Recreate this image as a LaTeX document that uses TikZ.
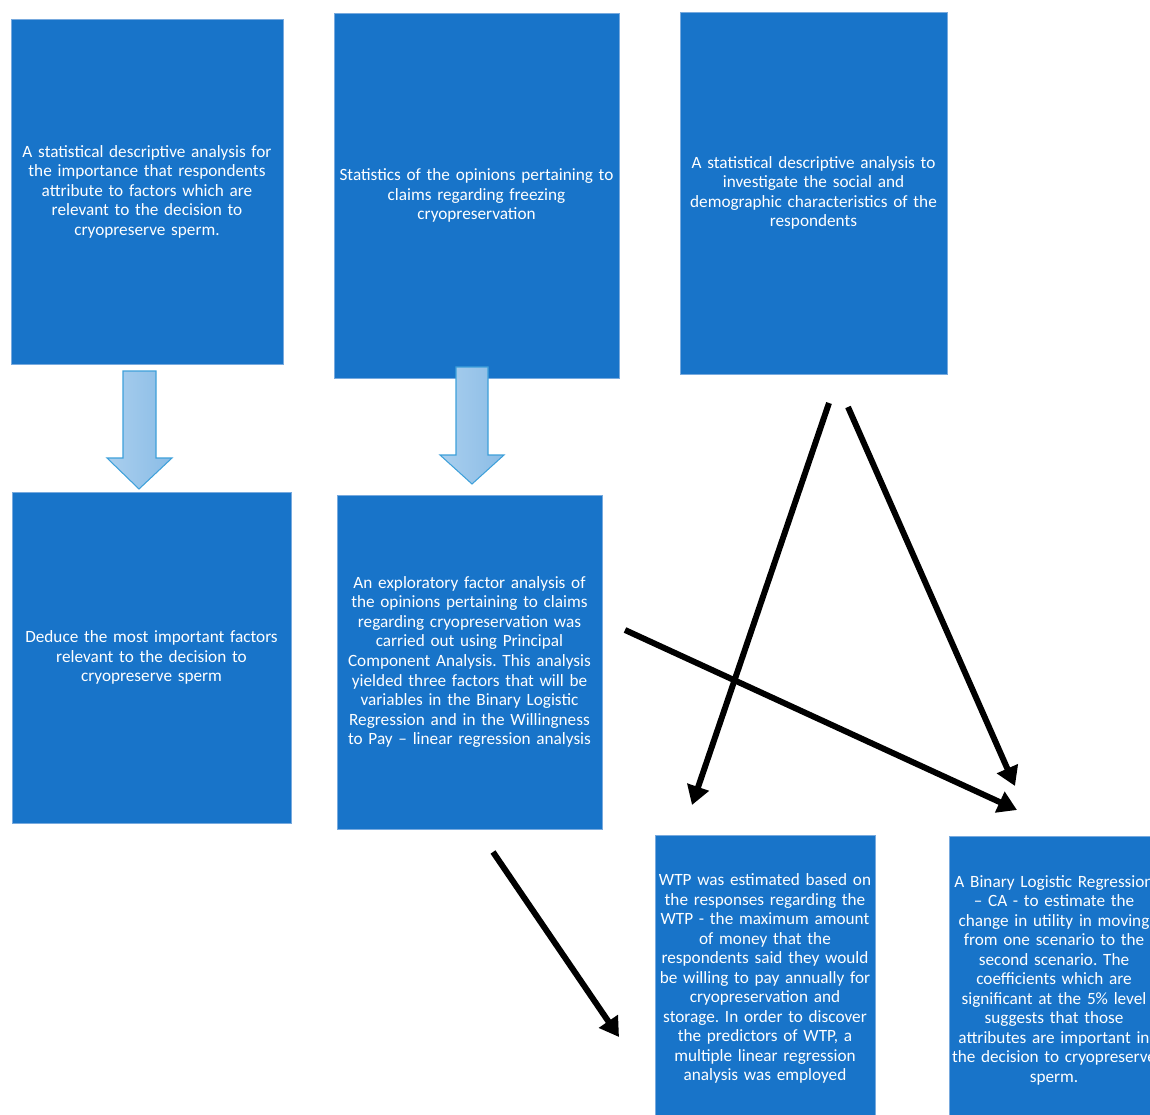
\documentclass[tikz,border=0pt]{standalone}
\usepackage{fontspec}
\setmainfont{Carlito}
\usepackage{tikz}
\usetikzlibrary{arrows.meta,positioning}
\definecolor{study_blue}{RGB}{24,116,201}
\definecolor{study_edge}{RGB}{120,170,222}
\definecolor{pipe_light}{RGB}{170,207,238}
\definecolor{pipe_dark}{RGB}{138,188,230}
\definecolor{pipe_edge}{RGB}{62,160,218}
\frenchspacing

\begin{document}
\begin{tikzpicture}[x=0.02cm, y=-0.02cm,
    font=\fontsize{9.8}{11.1}\selectfont,
    stagebox/.style={draw=study_edge, line width=0.5pt, fill=study_blue,
      text=white, align=center, inner sep=0pt},
    pipe/.style={draw=pipe_edge, line width=0.6pt,
      left color=pipe_light, right color=pipe_dark},
    link/.style={line width=3.4pt, -{Triangle[length=3.8mm, width=4.4mm]}}]
        \useasboundingbox (0,0) rectangle (1150,1115);
        \clip (0,0) rectangle (1150,1115);
        % Top row
        \node[stagebox, minimum width=5.44cm, minimum height=6.9cm,
          text width=5.3cm] (importance) at (147,191.5)
          {A statistical descriptive analysis for\\
           the importance that respondents\\
           attribute to factors which are\\
           relevant to the decision to\\
           cryopreserve sperm.};
        \node[stagebox, minimum width=5.7cm, minimum height=7.3cm,
          text width=5.6cm] (opinions) at (476.5,195.5)
          {Statistics of the opinions pertaining to\\
           claims regarding freezing\\
           cryopreservation};
        \node[stagebox, minimum width=5.34cm, minimum height=7.24cm,
          text width=5.2cm] (social) at (813.5,193)
          {A statistical descriptive analysis to\\
           investigate the social and\\
           demographic characteristics of the\\
           respondents};
        % Middle row
        \node[stagebox, minimum width=5.58cm, minimum height=6.62cm,
          text width=5.4cm] (deduce) at (151.5,657.5)
          {Deduce the most important factors\\
           relevant to the decision to\\
           cryopreserve sperm};
        \node[stagebox, minimum width=5.3cm, minimum height=6.68cm,
          text width=5.2cm] (factor) at (469.5,662)
          {An exploratory factor analysis of\\
           the opinions pertaining to claims\\
           regarding cryopreservation was\\
           carried out using Principal\\
           Component Analysis. This analysis\\
           yielded three factors that will be\\
           variables in the Binary Logistic\\
           Regression and in the Willingness\\
           to Pay -- linear regression analysis};
        % Bottom row
        \node[stagebox, minimum width=4.4cm, minimum height=5.74cm,
          text width=4.6cm, inner xsep=-0.1cm] (wtp) at (765,978.5)
          {WTP was estimated based on\\
           the responses regarding the\\
           WTP - the maximum amount\\
           of money that the\\
           respondents said they would\\
           be willing to pay annually for\\
           cryopreservation and\\
           storage. In order to discover\\
           the predictors of WTP, a\\
           multiple linear regression\\
           analysis was employed};
        \node[stagebox, minimum width=4.2cm, minimum height=5.76cm,
          text width=4.6cm, inner xsep=-0.2cm] (logit) at (1054,980)
          {A Binary Logistic Regression\\
           -- CA - to estimate the\\
           change in utility in moving\\
           from one scenario to the\\
           second scenario. The\\
           coefficients which are\\
           significant at the 5\% level\\
           suggests that those\\
           attributes are important in\\
           the decision to cryopreserve\\
           sperm.};
        % Block arrows
        \draw[pipe] (123,371) -- (156,371) -- (156,458) -- (172,458)
          -- (139,489) -- (107,458) -- (123,458) -- cycle;
        \draw[pipe] (456,367) -- (488,367) -- (488,455) -- (504,455)
          -- (472,484) -- (440,455) -- (456,455) -- cycle;
        % Loose arrow ends
        \coordinate (socialA) at (829,403);
        \coordinate (socialB) at (848,407);
        \coordinate (factorOut) at (625,630);
        \coordinate (factorDown) at (493,852);
        \coordinate (wtpIn) at (692,805);
        \coordinate (logitInA) at (1015,786);
        \coordinate (logitInB) at (1017,810);
        \coordinate (wtpSide) at (619,1037);
        \draw[link] (socialA) -- (wtpIn);
        \draw[link] (socialB) -- (logitInA);
        \draw[link] (factorOut) -- (logitInB);
        \draw[link] (factorDown) -- (wtpSide);
      \end{tikzpicture}
\end{document}
